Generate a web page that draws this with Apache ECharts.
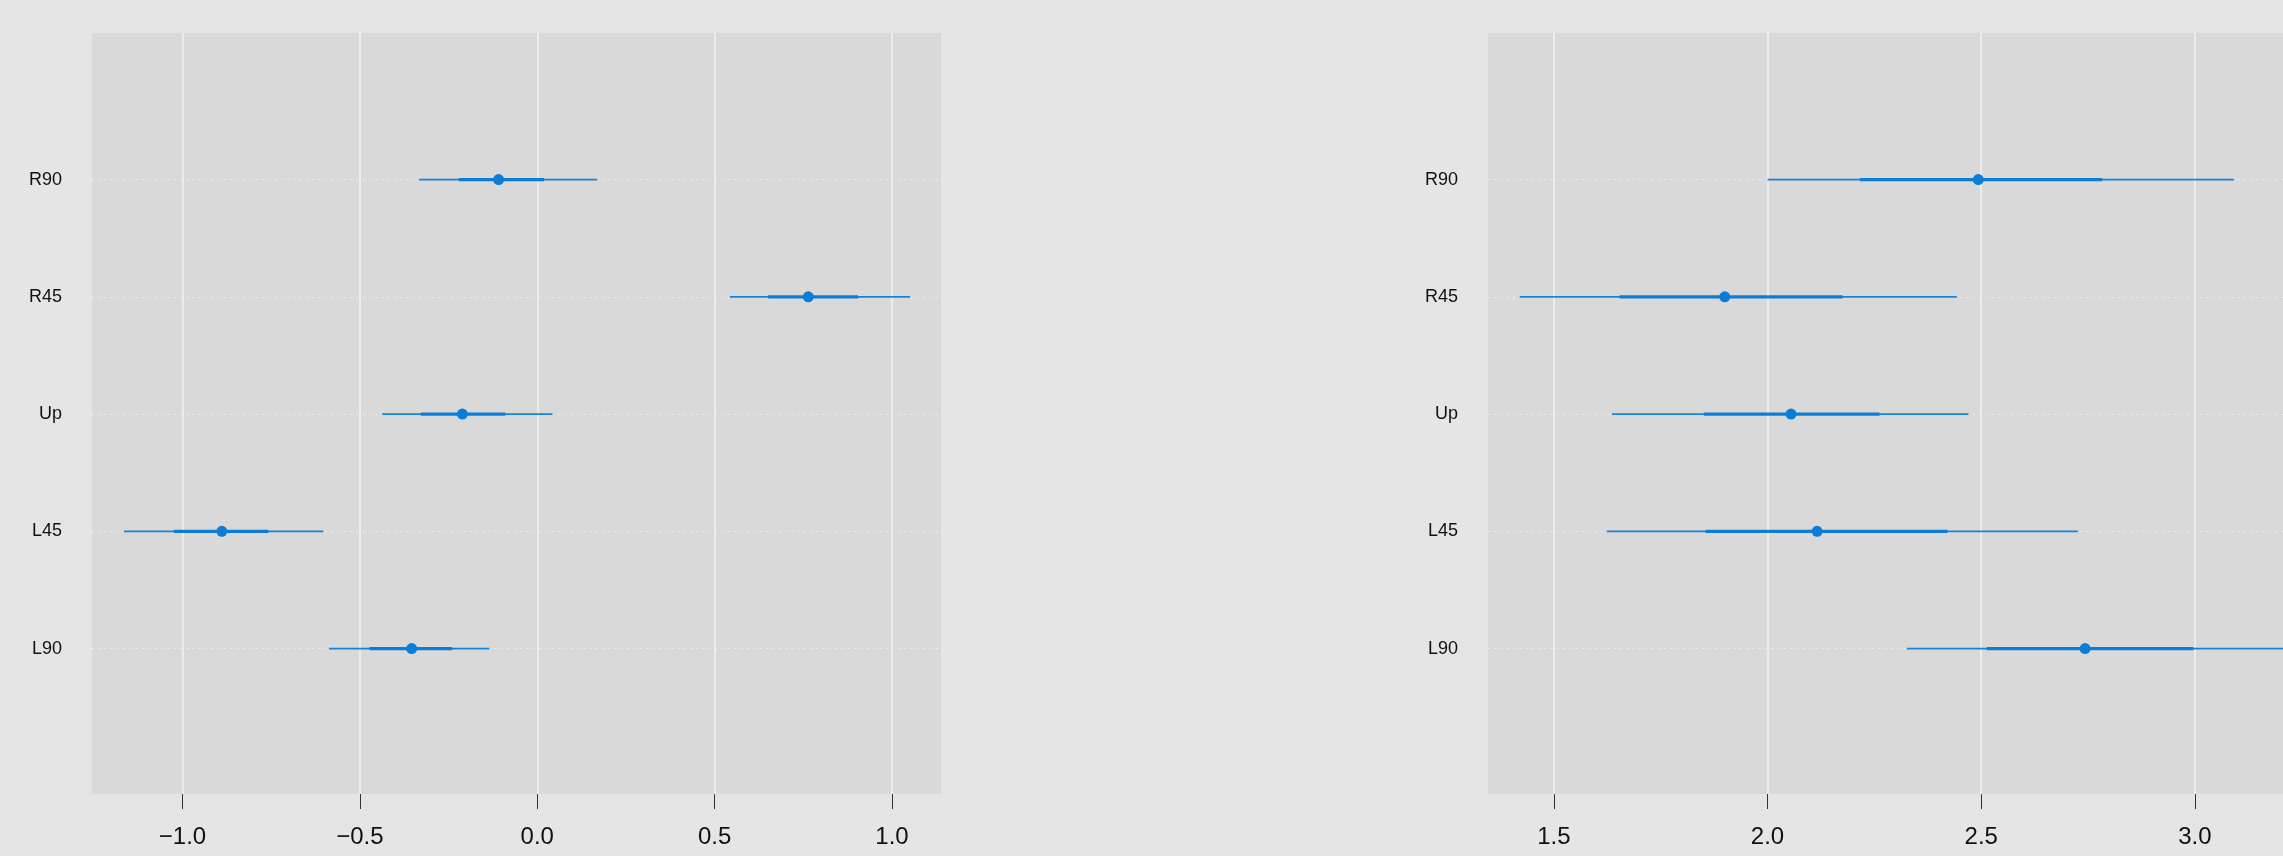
<!DOCTYPE html>
<html>
<head>
<meta charset="utf-8">
<script src="https://cdn.jsdelivr.net/npm/echarts@6/dist/echarts.min.js"></script>
<style>
  html, body { margin: 0; padding: 0; background: #e5e5e5; }
  #chart { width: 2283px; height: 856px; }
</style>
</head>
<body>
<div id="chart"></div>
<script>
// rows from bottom to top
var rows = ['L90', 'L45', 'Up', 'R45', 'R90'];

// left panel: outer / inner interval ends and median
var leftOuterLo = [-0.587, -1.165, -0.437, 0.543, -0.333];
var leftInnerLo = [-0.473, -1.024, -0.328, 0.651, -0.221];
var leftMedian  = [-0.354, -0.889, -0.211, 0.764, -0.109];
var leftInnerHi = [-0.240, -0.758, -0.090, 0.904, 0.019];
var leftOuterHi = [-0.135, -0.603, 0.043, 1.051, 0.169];

// right panel (cut off at the right edge of the picture)
var rightOuterLo = [2.326, 1.624, 1.636, 1.420, 2.000];
var rightInnerLo = [2.513, 1.855, 1.851, 1.654, 2.216];
var rightMedian  = [2.743, 2.116, 2.055, 1.900, 2.493];
var rightInnerHi = [2.996, 2.421, 2.262, 2.175, 2.783];
var rightOuterHi = [3.240, 2.726, 2.470, 2.443, 3.091];

var leftTicks = [-1, -0.5, 0, 0.5, 1];
var rightTicks = [1.5, 2, 2.5, 3];
var rowTicks = [0, 1, 2, 3, 4];

var thinColor = '#1585db';
var thickColor = '#0b7dd6';
var font = 'Liberation Sans, Arial, sans-serif';

function buildData(med, olo, ilo, ihi, ohi) {
    return rows.map(function (r, i) {
        return [med[i], i, olo[i], ilo[i], ihi[i], ohi[i]];
    });
}

function renderInterval(params, api) {
    var y = api.value(1);
    var o1 = api.coord([api.value(2), y]);
    var o2 = api.coord([api.value(5), y]);
    var i1 = api.coord([api.value(3), y]);
    var i2 = api.coord([api.value(4), y]);
    var m = api.coord([api.value(0), y]);
    return {
        type: 'group',
        children: [
            { type: 'line', shape: { x1: o1[0], y1: o1[1], x2: o2[0], y2: o2[1] },
              style: { stroke: thinColor, lineWidth: 1.7 } },
            { type: 'line', shape: { x1: i1[0], y1: i1[1], x2: i2[0], y2: i2[1] },
              style: { stroke: thickColor, lineWidth: 3.3 } },
            { type: 'circle', shape: { cx: m[0], cy: m[1], r: 5.5 },
              style: { fill: thickColor } }
        ]
    };
}

function xAxisFor(idx, min, max, ticks) {
    return {
        type: 'value', gridIndex: idx, min: min, max: max, position: 'bottom',
        axisLine: { show: false, onZero: false },
        axisTick: { show: true, length: 15, customValues: ticks, lineStyle: { color: '#333', width: 1 } },
        axisLabel: {
            customValues: ticks, margin: 31, fontSize: 24, color: '#111', fontFamily: font,
            formatter: function (v) { return v.toFixed(1).replace('-', '\u2212'); }
        },
        splitLine: { show: true, lineStyle: { color: '#ececec', width: 2 } }
    };
}

function yAxisFor(idx) {
    return {
        type: 'value', gridIndex: idx, min: -1.24, max: 5.25,
        axisLine: { show: false, onZero: false },
        axisTick: { show: false, customValues: rowTicks },
        axisLabel: {
            customValues: rowTicks, margin: 30, fontSize: 18, color: '#111', fontFamily: font,
            formatter: function (v) { return rows[Math.round(v)]; }
        },
        splitLine: { show: true, lineStyle: { color: '#f2f2f2', width: 1, type: [1.5, 4.8] } }
    };
}

function init() {
    var myChart = echarts.init(document.getElementById('chart'));
    myChart.setOption({
        backgroundColor: '#e5e5e5',
        animation: false,
        grid: [
            { left: 92, top: 33, width: 849, height: 761, show: true, backgroundColor: '#d9d9d9', borderWidth: 0 },
            { left: 1488, top: 33, right: 0, height: 761, show: true, backgroundColor: '#d9d9d9', borderWidth: 0 }
        ],
        xAxis: [
            xAxisFor(0, -1.255, 1.138, leftTicks),
            xAxisFor(1, 1.346, 3.206, rightTicks)
        ],
        yAxis: [yAxisFor(0), yAxisFor(1)],
        series: [
            {
                type: 'custom', xAxisIndex: 0, yAxisIndex: 0,
                renderItem: renderInterval,
                encode: { x: [0, 2, 5], y: 1 },
                data: buildData(leftMedian, leftOuterLo, leftInnerLo, leftInnerHi, leftOuterHi)
            },
            {
                type: 'custom', xAxisIndex: 1, yAxisIndex: 1,
                renderItem: renderInterval,
                encode: { x: [0, 2, 5], y: 1 },
                data: buildData(rightMedian, rightOuterLo, rightInnerLo, rightInnerHi, rightOuterHi)
            }
        ]
    });
}

document.addEventListener("DOMContentLoaded", function (event) {
    init();
});
</script>
</body>
</html>
